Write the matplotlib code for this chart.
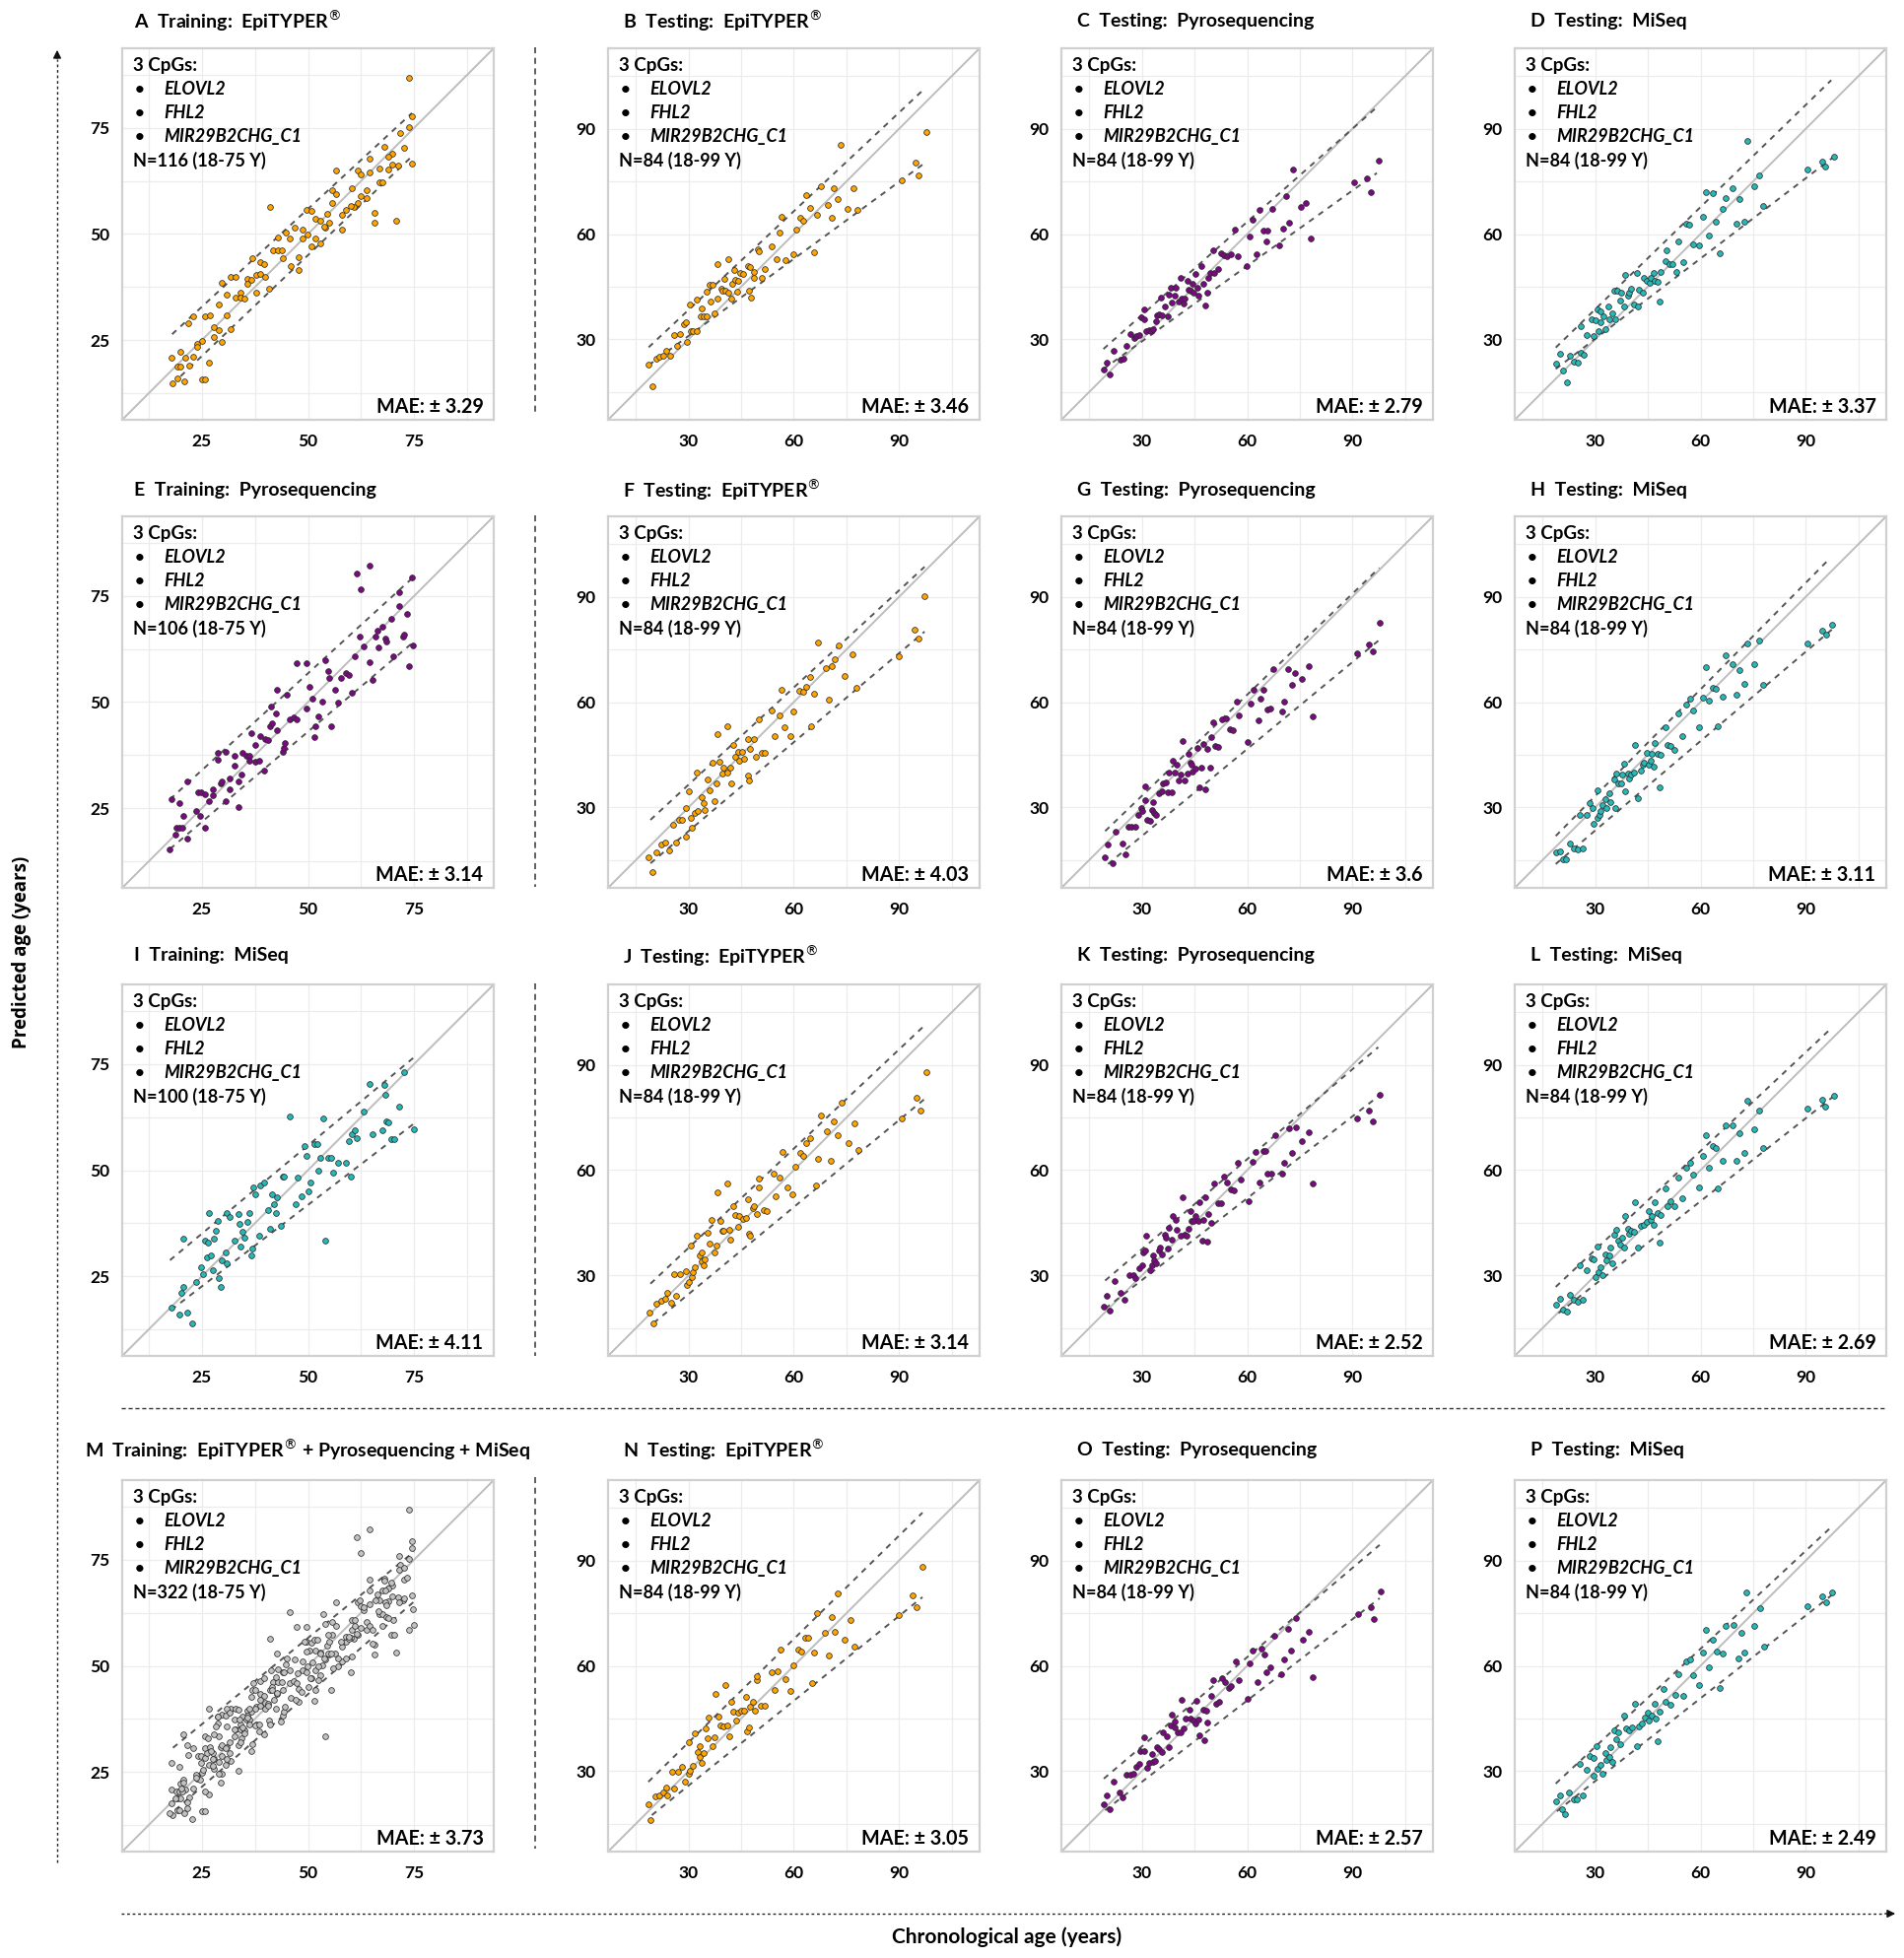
import matplotlib
matplotlib.use("Agg")
import matplotlib.pyplot as plt

plt.rcParams['font.family'] = ['Lato', 'DejaVu Sans']
plt.rcParams['mathtext.fontset'] = 'dejavusans'

# ---------------- data ----------------
A_x = [73.8,74.6,73.8,71.7,67.9,72.7,69.8,68.8,64.6,74.6, 69.8,71.3,66.8,68.8,56.7,61.7,62.5,64.6,66.8,67.5,
       55.8,60.4,63.8,62.5,63.8,56.7,55.8,61.7,60.8,60.0, 59.0,57.9,54.6,65.7,65.7,70.7,49.6,50.7,51.7,52.9,
       54.0,53.8,55.0,57.9,46.8,44.8,48.8,41.0,42.9,45.8, 48.8,49.8,50.8,51.7,52.9,41.7,42.9,43.8,44.0,47.9,
       46.0,47.9,36.8,38.8,39.6,35.8,36.7,37.7,38.8,39.8, 35.8,37.7,40.8,29.8,31.8,32.9,30.8,34.0,32.9,34.2,
       35.0,29.0,30.8,25.8,26.8,22.9,21.9,27.9,29.0,31.8, 27.9,29.8,25.0,24.0,24.0,22.9,20.0,21.0,17.9,19.2,
       20.0,22.1,26.7,19.2,18.2,20.8,25.0,25.8]
A_y = [86.8,77.8,75.2,73.9,70.6,70.2,68.8,68.3,67.8,66.7, 66.4,66.1,65.5,65.2,65.0,65.0,64.0,64.4,62.2,62.2,
       60.3,60.7,60.3,59.0,58.4,59.3,57.4,57.4,56.4,56.7, 55.7,54.5,54.7,54.9,52.6,53.1,55.7,55.4,53.6,53.1,
       51.4,51.8,52.6,51.0,51.4,50.4,51.0,56.4,49.1,49.0, 49.0,49.8,47.1,49.0,47.9,46.2,46.2,46.1,44.4,44.6,
       42.5,41.5,44.4,43.3,43.0,39.4,39.1,40.4,40.7,39.9, 38.2,36.3,37.1,38.6,39.8,39.9,35.7,36.3,35.0,35.0,
       34.7,33.4,30.9,30.6,30.9,30.6,29.1,28.1,27.4,27.5, 25.7,24.7,24.9,24.1,23.5,21.2,22.3,20.8,20.8,18.8,
       18.7,19.0,19.6,15.9,14.8,15.3,15.7,15.7]

B_x = [18.6,19.7,20.8,21.7,22.7,23.6,24.6,25.7,26.7,27.6, 28.6,29.3,29.5,30.3,30.5,31.2,32.2,32.4,33.3,33.8,
       34.3,35.0,35.2,36.0,36.2,36.9,37.3,38.1,38.3,39.2, 39.5,40.2,40.4,41.2,41.4,42.1,42.3,43.0,43.3,43.8,
       44.2,44.7,45.5,46.8,47.1,47.6,47.8,48.5,48.7,49.7, 49.9,50.9,51.8,53.7,55.0,55.9,56.6,57.6,59.8,60.8,
       61.7,62.7,63.6,64.6,65.7,66.7,67.6,69.6,70.7,71.4, 72.4,73.3,75.2,77.1,78.2,90.8,94.8,95.6,97.7]
B_y = [22.8,16.7,24.4,25.0,25.3,26.7,25.3,31.2,28.1,31.4, 34.4,34.9,29.1,39.8,32.3,32.3,32.3,41.2,36.6,38.9,
       36.6,36.4,43.5,45.6,40.7,45.6,37.5,51.4,41.5,44.3, 43.7,47.3,43.7,43.3,52.8,41.5,45.8,49.6,46.8,43.5,
       46.6,48.8,48.5,51.0,43.8,50.5,42.0,49.1,47.5,55.6, 55.2,47.5,50.0,56.6,52.8,60.3,64.9,52.6,54.2,61.2,
       64.6,63.7,71.2,67.4,54.7,65.4,73.6,68.4,64.6,73.1, 69.9,85.4,67.1,73.1,66.8,75.2,80.3,76.6,89.0]

C_x = [19.0,20.0,20.8,21.9,23.9,24.7,25.5,26.8,27.7,28.4, 29.2,29.7,30.5,30.5,31.3,31.9,32.6,33.2,34.0,34.4,
       34.8,35.3,35.8,36.5,37.3,37.7,38.1,38.4,39.4,39.7, 40.5,41.0,41.3,41.8,42.1,42.9,43.2,43.7,44.5,44.8,
       45.3,45.8,46.1,46.9,47.4,48.1,48.5,49.0,49.4,50.2, 50.6,51.8,52.6,53.4,54.2,55.5,56.6,57.4,59.8,60.6,
       61.5,62.7,63.5,64.7,65.5,65.8,67.1,69.2,70.3,71.1, 71.9,73.2,75.2,76.8,78.1,90.5,94.2,95.3,97.4]
C_y = [21.4,23.4,20.0,26.6,24.2,24.4,28.1,31.6,30.4,31.0, 31.2,36.2,38.6,35.7,32.3,32.7,32.3,32.9,35.0,36.9,
       37.2,42.0,36.9,39.3,36.6,42.8,44.8,40.4,42.5,44.8, 40.7,47.6,41.6,40.2,41.6,46.7,44.1,43.9,45.8,43.4,
       48.6,44.8,42.5,50.9,45.8,39.7,43.4,47.6,49.0,55.5, 49.0,50.0,54.6,54.0,53.7,54.1,61.4,53.7,50.9,59.4,
       64.2,54.1,67.0,61.1,58.0,61.1,67.3,56.7,61.6,70.9, 63.3,78.5,67.6,68.8,58.6,74.8,76.0,72.0,80.9]

D_x = [18.7,19.8,20.8,21.9,22.7,24.0,25.1,25.9,26.7,25.9, 27.6,28.9,29.5,30.0,30.5,30.8,31.6,31.6,32.4,32.8,
       33.7,34.1,34.9,35.4,35.7,36.2,37.0,37.3,38.1,38.6, 39.2,39.7,40.2,40.9,41.8,42.2,42.5,43.5,43.8,44.6,
       45.4,45.7,46.7,47.0,47.8,48.3,48.6,49.9,50.3,51.1, 51.9,53.2,53.8,55.1,55.9,56.7,58.0,59.6,60.7,61.5,
       62.3,63.4,64.4,65.5,66.3,67.1,69.2,70.3,71.2,72.5, 73.3,75.2,76.8,77.9,90.6,94.7,95.5,98.0]
D_y = [23.1,25.9,21.0,17.8,25.3,23.7,23.4,26.0,25.6,33.7, 31.2,35.6,30.9,35.3,38.4,32.4,37.9,34.7,36.5,33.0,
       39.3,35.6,37.4,43.7,35.6,43.9,40.9,43.2,39.3,48.4, 42.5,43.4,44.4,40.0,48.8,39.3,44.1,43.4,47.4,46.7,
       46.2,47.4,48.8,46.7,46.5,40.7,49.3,52.3,55.3,51.4, 51.5,49.3,58.0,52.1,63.0,62.7,57.1,56.7,64.8,72.0,
       59.7,71.6,63.6,54.6,67.2,70.4,73.2,63.0,70.1,63.4, 86.5,73.5,76.7,67.9,78.3,80.7,79.3,82.0]

E_x = [17.5,17.8,18.7,19.0,19.7,20.4,19.7,20.7,21.6,21.6, 23.7,24.2,24.9,24.6,25.7,25.7,26.7,27.6,27.6,28.7,
       28.7,29.4,29.7,30.6,30.6,31.6,31.6,32.7,32.7,33.6, 33.6,34.3,34.6,35.4,36.1,36.6,36.1,37.6,37.6,38.4,
       38.7,39.6,39.9,40.6,41.0,41.3,41.6,42.5,42.8,42.8, 44.0,44.3,44.6,45.1,45.8,46.6,47.3,47.3,49.6,49.6,
       50.3,51.0,51.5,51.8,52.5,53.3,54.0,54.8,55.1,55.5, 56.3,57.0,57.8,58.9,59.6,60.4,61.0,61.5,62.2,62.5,
       63.0,64.5,64.6,65.2,65.9,66.4,66.7,67.5,68.2,68.5, 69.7,70.0,71.5,71.5,72.4,72.7,73.4,73.9,74.5,74.8]
E_y = [15.4,27.1,18.7,20.5,20.5,20.5,26.3,23.2,17.9,31.4, 24.4,28.8,28.8,23.2,20.5,28.4,26.7,29.5,28.0,36.5,
       38.0,30.9,31.4,26.7,38.2,32.0,29.5,37.3,35.1,25.2, 31.4,33.0,38.0,37.4,37.3,42.7,36.1,39.8,35.9,36.1,
       42.1,33.8,41.3,41.0,44.3,49.0,45.1,47.3,53.0,43.5, 38.2,39.2,40.4,51.7,45.9,46.3,45.9,59.1,59.1,48.6,
       53.5,50.7,41.8,44.3,46.6,50.2,59.9,57.2,55.6,44.3, 52.9,49.8,55.6,56.8,56.4,52.1,60.9,80.4,65.5,76.5,
       63.0,82.2,59.5,55.2,65.5,66.8,62.9,67.7,65.0,64.2, 69.5,60.7,75.9,72.6,65.4,65.8,70.7,58.4,79.3,63.4]

F_x = [18.5,19.6,20.9,22.2,23.3,24.5,25.5,26.4,27.3,28.2, 29.1,29.1,30.0,30.5,30.9,31.8,32.7,32.4,33.6,34.2,
       34.5,35.5,36.0,36.7,37.3,37.8,38.2,38.7,39.6,40.0, 40.9,40.9,41.8,42.2,42.7,43.3,44.0,44.5,45.1,45.8,
       46.9,46.9,47.3,47.6,48.7,49.1,50.0,50.9,51.8,53.6, 54.5,55.8,56.4,57.3,59.1,60.0,61.5,62.7,63.6,64.5,
       64.9,65.8,66.9,69.1,70.0,70.9,71.8,72.7,74.5,76.7, 77.8,90.0,94.5,95.5,97.3]
F_y = [15.7,11.6,17.1,19.4,19.9,17.7,25.0,19.9,26.4,26.4, 29.7,21.5,34.6,27.1,24.1,28.3,28.8,40.0,33.0,31.1,
       29.3,38.0,34.9,42.8,31.8,36.8,50.8,43.0,39.6,41.4, 53.2,40.0,41.2,36.8,47.7,44.3,45.8,43.3,45.7,43.8,
       49.4,39.1,37.7,46.6,49.4,44.3,55.0,45.5,45.5,57.7, 50.3,56.2,63.5,52.7,50.2,57.4,63.3,63.0,64.4,67.2,
       53.2,62.5,77.1,69.6,60.7,70.2,72.1,76.1,67.4,73.6, 64.2,73.0,80.8,78.0,90.2]

G_x = [19.5,20.3,21.5,22.5,24.4,25.2,26.0,27.1,28.1,28.9, 29.7,30.0,30.8,31.0,31.6,32.4,32.9,33.2,33.5,34.0,
       34.8,35.6,36.1,36.8,37.3,37.7,38.4,38.9,39.4,40.0, 40.5,41.0,41.6,42.1,42.9,43.2,43.7,44.2,44.5,45.3,
       45.8,46.5,46.9,47.4,48.1,48.7,49.4,49.7,50.3,51.0, 51.8,52.9,53.9,55.0,55.8,57.1,57.7,60.2,61.0,61.9,
       63.1,63.9,64.7,65.8,66.5,67.4,70.0,70.6,71.6,72.7, 73.5,75.5,77.6,78.7,91.3,94.8,95.8,97.7]
G_y = [15.7,19.4,14.0,23.0,19.6,16.6,24.3,24.3,24.3,27.7, 29.9,28.8,32.1,36.1,26.4,26.2,29.3,31.6,28.3,27.9,
       33.9,34.6,36.8,37.0,34.2,39.8,34.4,43.3,40.0,42.1, 37.7,39.3,48.9,37.7,39.6,45.2,42.7,42.1,40.2,41.0,
       46.8,35.8,41.4,48.0,35.2,46.6,41.4,49.9,54.1,47.5, 47.1,55.2,55.5,52.2,52.0,60.2,56.2,48.5,59.5,63.5,
       54.8,61.1,63.5,57.8,58.3,69.3,57.4,60.2,69.3,64.9, 68.2,66.7,70.2,56.0,74.0,76.4,74.5,82.7]

H_x = [18.7,19.8,20.8,21.6,22.7,24.0,25.1,26.3,25.6,27.6, 28.4,29.2,29.5,30.5,30.5,31.1,31.6,32.1,32.8,33.2,
       34.1,34.4,35.3,35.7,36.0,36.5,37.3,37.6,38.1,38.6, 39.2,39.7,40.2,40.9,41.4,42.2,43.0,43.5,43.8,44.6,
       45.1,45.7,46.2,46.7,47.0,47.8,48.3,48.6,49.9,50.5, 51.4,52.6,53.8,54.7,55.9,57.0,58.0,59.6,60.7,61.5,
       62.3,63.4,64.4,65.0,66.3,67.1,69.2,70.3,71.2,72.5, 73.3,75.2,76.8,77.9,90.6,94.7,95.8,97.4]
H_y = [17.1,17.5,15.2,15.2,19.6,18.3,18.0,18.3,27.7,27.7, 31.1,29.9,25.2,34.9,27.0,27.9,28.8,30.6,32.4,29.7,
       33.9,31.6,38.0,29.9,39.6,36.8,36.8,39.3,42.4,34.6, 39.6,38.2,39.3,40.0,47.7,32.7,40.5,42.1,42.8,45.5,
       42.1,43.3,45.2,41.7,48.3,45.2,35.8,44.9,52.7,47.7, 47.5,46.4,56.7,50.3,59.3,61.1,57.7,52.7,61.4,70.0,
       60.5,64.2,63.9,53.2,61.6,73.3,70.8,62.1,69.1,65.3, 76.6,70.8,77.6,64.9,76.8,80.5,79.2,82.0]

I_x = [17.8,19.7,20.1,20.7,20.7,21.6,22.7,23.7,24.9,25.2, 25.7,26.1,26.4,26.7,27.2,27.6,27.9,28.4,28.7,29.1,
       29.4,29.7,30.6,30.9,30.9,31.6,32.7,33.6,33.9,34.2, 34.6,35.1,35.7,36.1,36.6,36.9,37.2,37.6,38.4,38.7,
       39.6,40.6,41.0,41.6,42.1,42.5,42.8,43.6,44.0,44.3, 45.8,47.0,47.6,48.5,49.1,49.6,50.0,50.6,51.5,52.1,
       52.5,53.0,53.6,54.0,54.8,55.5,56.0,57.0,59.0,59.6, 60.0,60.4,61.0,61.5,63.0,64.5,65.2,67.5,67.9,68.2,
       68.5,68.9,69.7,70.4,71.5,72.7,74.9]
I_y = [17.7,16.1,21.1,22.4,33.8,16.5,14.0,23.7,27.2,25.6, 33.4,29.5,33.0,40.0,29.9,26.4,33.8,35.8,38.1,24.5,
       22.4,28.8,30.7,28.0,40.0,38.9,33.4,39.6,37.3,31.9, 35.4,34.2,37.7,40.0,29.9,31.5,45.9,44.3,34.6,46.3,
       47.0,40.6,36.1,44.3,42.0,40.0,43.7,36.9,48.4,48.6, 62.6,42.0,48.2,43.9,55.6,53.3,45.1,47.0,56.1,56.1,
       49.9,52.9,62.1,33.4,52.9,52.9,49.4,51.7,51.7,56.8, 48.6,58.5,59.5,57.5,63.8,70.2,58.5,59.5,70.0,67.7,
       61.6,61.3,57.4,57.2,64.9,73.1,59.6]

J_x = [18.7,20.0,20.9,22.2,23.3,24.0,25.1,26.4,25.8,27.6, 29.1,29.5,30.0,30.5,30.9,31.3,31.8,32.4,33.1,33.6,
       33.6,34.2,34.5,35.5,36.0,36.4,37.3,37.8,38.2,39.1, 39.6,40.0,40.9,41.5,41.8,42.7,43.3,44.0,44.5,45.5,
       46.4,46.9,47.3,47.6,48.2,48.7,49.5,50.0,50.0,51.3, 52.4,54.2,54.9,56.0,56.7,58.2,59.6,60.4,61.8,62.7,
       63.6,64.5,66.4,66.9,67.6,69.5,70.5,71.3,72.4,73.6, 75.5,77.3,78.5,90.9,94.9,96.0,97.8]
J_y = [19.4,16.4,22.0,22.8,23.2,25.0,22.2,24.1,30.2,30.2, 31.2,27.2,28.1,38.4,29.5,30.9,32.3,41.2,35.6,34.0,
       36.5,32.8,34.6,42.1,39.0,45.8,36.5,38.4,53.7,45.4, 42.6,42.6,56.1,43.0,40.2,49.6,47.2,43.9,46.8,46.1,
       46.5,51.7,41.8,41.2,49.1,49.6,47.4,55.1,57.7,48.6, 48.3,58.9,52.6,57.9,65.1,55.1,53.0,61.0,64.9,64.0,
       67.7,69.1,55.6,63.1,75.7,71.0,62.6,73.8,70.1,79.4, 67.7,73.3,65.7,74.7,80.8,76.9,88.1]

K_x = [19.0,19.8,20.8,22.2,24.0,24.9,26.3,27.4,28.0,29.1, 30.0,30.3,30.8,31.3,32.4,32.9,33.2,33.5,34.0,34.8,
       35.2,35.6,36.5,36.8,37.3,37.7,38.4,38.9,39.7,40.0, 41.0,41.6,42.1,42.6,43.2,43.7,44.2,44.8,45.3,46.1,
       46.5,47.1,47.4,48.1,48.5,49.0,49.7,50.6,51.8,52.6, 53.4,54.2,55.5,56.1,57.4,58.2,60.3,61.5,62.3,63.5,
       64.7,65.2,65.8,66.8,67.9,70.0,70.6,71.9,72.7,73.9, 75.5,77.6,78.7,91.3,94.8,95.8,97.7]
K_y = [21.1,24.2,19.9,28.3,25.1,23.0,30.0,30.0,29.2,32.0, 32.8,36.5,37.0,41.2,31.4,32.9,35.7,34.2,33.5,37.2,
       37.9,36.0,41.6,40.7,37.6,43.5,40.2,46.8,45.8,43.0, 41.3,52.2,41.6,41.3,43.2,48.4,45.6,45.6,46.9,45.4,
       51.0,39.8,45.8,52.2,39.5,47.5,44.9,56.1,50.7,50.5, 58.1,56.5,54.4,54.2,62.1,57.2,51.2,62.4,65.2,56.5,
       65.6,65.4,58.9,59.1,69.9,58.9,62.1,71.9,64.9,72.1, 68.2,70.8,56.3,74.7,77.1,74.0,81.5]

L_x = [18.7,19.8,20.8,21.9,22.7,24.0,25.1,26.3,25.6,27.6, 28.9,29.5,30.0,30.5,30.8,31.6,32.1,32.8,33.2,34.1,
       34.4,34.9,35.4,36.0,36.5,37.0,37.6,38.1,38.6,39.2, 39.7,40.2,40.9,41.4,42.2,43.0,43.8,44.6,45.1,45.7,
       46.2,46.7,47.0,47.8,48.3,48.6,49.9,50.5,51.4,52.6, 53.8,54.7,55.9,57.0,58.0,59.6,60.7,61.5,62.3,63.4,
       64.4,65.0,66.3,67.1,69.2,70.3,71.2,72.5,73.3,75.2, 76.8,77.9,90.6,94.7,95.5,98.0]
L_y = [21.6,23.4,20.2,19.7,24.4,23.0,22.5,23.0,32.8,31.4, 34.8,34.6,29.5,38.2,30.9,32.3,30.1,36.0,34.2,35.6,
       37.9,33.5,41.6,43.0,39.8,38.8,40.7,37.9,46.8,43.2, 41.9,42.8,42.3,51.0,37.9,44.1,44.4,45.1,48.2,45.8,
       46.8,44.4,51.0,47.9,39.3,47.2,54.7,49.7,51.2,49.6, 57.9,51.9,60.7,62.1,58.7,55.1,64.0,69.9,60.7,66.8,
       66.3,54.7,62.8,72.9,72.7,62.8,70.5,64.9,79.9,71.7, 77.1,66.2,77.5,80.1,78.0,81.3]

# M = combined training set (the samples of A, E and I)
M_x = A_x + E_x + I_x
M_y = A_y + E_y + I_y

N_x = [18.5,19.1,20.4,21.6,22.7,23.5,24.0,25.8,25.3,27.1, 28.2,28.9,30.0,30.0,30.4,31.3,31.8,32.5,33.1,33.1,
       33.6,34.4,34.9,35.5,35.8,36.7,37.3,37.6,38.5,39.1, 39.8,40.4,40.9,41.6,42.2,42.7,43.5,44.0,44.9,45.8,
       46.4,46.7,47.1,47.6,48.2,48.9,49.5,49.5,50.7,51.8, 53.6,54.4,55.5,56.2,57.6,59.1,59.8,61.3,62.2,63.1,
       64.0,65.8,65.3,66.7,68.9,70.0,70.7,71.8,72.5,74.4, 76.2,77.3,90.0,94.0,94.9,96.7]
N_y = [20.4,16.0,22.7,23.1,23.9,25.4,22.9,24.9,29.8,29.8, 31.2,27.1,29.2,38.2,30.0,31.5,40.8,35.5,34.0,37.0,
       32.3,35.1,42.1,39.2,45.3,37.0,39.5,52.1,45.6,42.9, 42.6,54.4,42.9,39.8,49.6,46.9,44.3,46.6,47.1,47.1,
       51.1,41.3,42.3,48.3,49.6,47.3,56.0,57.0,48.6,48.6, 58.2,53.1,58.4,64.7,56.2,52.9,60.2,64.7,64.1,68.1,
       68.1,63.7,55.2,75.1,69.5,63.0,73.8,69.8,80.6,67.5, 73.1,65.4,74.5,80.2,76.8,88.2]

O_x = [19.1,19.8,20.8,21.9,23.5,24.3,25.6,26.8,27.6,28.4, 29.2,29.5,30.5,30.5,31.6,32.1,32.8,33.2,33.7,34.4,
       34.9,35.7,36.0,37.0,37.6,38.1,38.6,39.2,39.2,40.2, 40.9,41.3,41.8,42.5,43.5,43.8,44.6,45.1,45.4,46.2,
       46.4,47.4,47.9,48.4,48.7,49.7,50.3,51.1,51.9,52.7, 53.8,54.8,55.4,56.7,57.5,60.0,60.8,61.6,62.9,64.0,
       64.8,65.6,66.5,67.8,69.7,70.5,71.7,72.6,73.8,75.9, 77.5,78.6,91.6,95.3,96.0,98.1]
O_y = [20.5,23.1,19.2,27.1,23.9,22.5,28.8,29.0,29.3,31.3, 32.0,35.7,35.7,39.6,30.8,32.3,34.9,32.7,32.9,36.9,
       36.2,35.5,41.1,39.8,36.7,43.0,46.0,44.0,42.5,41.1, 41.1,50.4,42.1,45.0,47.6,45.0,44.5,43.5,49.9,44.7,
       40.1,47.5,38.8,47.3,43.7,51.4,55.8,49.2,49.6,56.5, 55.3,53.8,54.1,61.4,55.8,50.6,60.7,64.3,55.5,64.9,
       63.3,58.2,59.7,68.5,57.7,61.7,70.5,64.3,73.7,67.5, 69.8,56.8,74.7,76.7,73.4,81.3]

P_x = [18.7,19.8,20.6,21.4,22.6,23.8,24.7,26.3,25.5,27.4, 28.4,29.5,29.5,30.3,30.6,31.6,31.9,32.8,33.2,33.9,
       34.4,34.9,35.5,36.0,36.5,37.1,38.1,38.8,39.7,40.4, 41.3,42.0,42.5,43.3,44.1,44.9,45.2,46.2,46.9,47.3,
       47.8,48.4,49.4,50.1,51.4,52.7,53.8,55.0,55.9,57.1, 57.9,59.5,60.8,61.5,62.4,63.5,64.7,65.6,66.3,67.3,
       69.5,70.8,71.6,72.5,73.2,75.4,77.0,78.1,90.6,94.8, 95.9,97.6]
P_y = [21.2,22.9,19.2,17.8,23.9,22.0,21.8,22.9,32.0,30.3, 34.2,33.7,28.6,37.2,30.6,31.8,29.3,35.2,33.2,33.9,
       36.9,32.7,41.6,39.1,41.1,37.6,45.7,42.1,41.6,42.5, 49.2,37.2,42.7,43.5,45.3,46.7,44.5,45.7,49.2,45.0,
       38.6,47.0,53.3,49.6,48.9,51.6,57.5,51.4,61.2,61.7, 57.3,54.5,63.9,70.2,59.7,67.5,64.1,53.8,63.6,71.5,
       71.8,62.2,69.5,63.9,81.0,71.5,76.4,65.6,77.1,79.8, 78.0,81.0]

# dashed band lines: [x0, y0, x1, y1]
upper_lines = {
    'A': [18.0, 26.4, 74.5, 78.5], 'B': [18.6, 27.7, 97.0, 101.2], 'C': [19.0, 27.2, 97.0, 96.2], 'D': [18.7, 27.6, 97.3, 103.9],
    'E': [17.5, 27.1, 74.9, 79.5], 'F': [19.1, 26.4, 97.3, 98.6], 'G': [19.5, 23.2, 97.7, 98.3], 'H': [18.7, 21.8, 96.9, 101.0],
    'I': [17.5, 28.8, 75.0, 76.6], 'J': [19.1, 27.6, 97.3, 101.3], 'K': [19.5, 28.5, 97.4, 95.1], 'L': [18.7, 26.7, 96.9, 100.1],
    'M': [18.2, 30.7, 75.0, 76.9], 'N': [18.5, 26.9, 96.7, 103.7], 'O': [19.1, 27.8, 97.8, 94.5], 'P': [18.7, 26.4, 97.1, 99.4],
}
lower_lines = {
    'A': [20.0, 16.5, 74.6, 68.4], 'B': [18.6, 22.6, 97.4, 80.3], 'C': [19.0, 21.5, 97.0, 77.4], 'D': [18.7, 21.5, 98.0, 82.0],
    'E': [17.5, 15.4, 74.9, 64.2], 'F': [19.1, 14.0, 97.3, 80.1], 'G': [20.3, 13.8, 97.4, 77.5], 'H': [18.7, 13.8, 97.6, 80.8],
    'I': [17.8, 17.1, 75.0, 61.0], 'J': [20.0, 16.4, 97.3, 80.3], 'K': [19.5, 20.5, 97.7, 81.3], 'L': [19.5, 19.2, 98.0, 81.1],
    'M': [18.7, 16.0, 75.4, 65.5], 'N': [19.5, 17.4, 96.7, 79.6], 'O': [19.5, 18.8, 97.8, 79.3], 'P': [19.0, 18.5, 97.6, 80.3],
}

letters = list("ABCDEFGHIJKLMNOP")
stages = ['Training', 'Testing', 'Testing', 'Testing'] * 4
platforms = ['EpiTYPER$^{\\circledR}$', 'EpiTYPER$^{\\circledR}$', 'Pyrosequencing', 'MiSeq',
             'Pyrosequencing', 'EpiTYPER$^{\\circledR}$', 'Pyrosequencing', 'MiSeq',
             'MiSeq', 'EpiTYPER$^{\\circledR}$', 'Pyrosequencing', 'MiSeq',
             'EpiTYPER$^{\\circledR}$ + Pyrosequencing + MiSeq', 'EpiTYPER$^{\\circledR}$', 'Pyrosequencing', 'MiSeq']
mae_values = ['3.29', '3.46', '2.79', '3.37', '3.14', '4.03', '3.6', '3.11',
              '4.11', '3.14', '2.52', '2.69', '3.73', '3.05', '2.57', '2.49']
n_labels = ['N=116 (18-75 Y)', 'N=84 (18-99 Y)', 'N=84 (18-99 Y)', 'N=84 (18-99 Y)',
            'N=106 (18-75 Y)', 'N=84 (18-99 Y)', 'N=84 (18-99 Y)', 'N=84 (18-99 Y)',
            'N=100 (18-75 Y)', 'N=84 (18-99 Y)', 'N=84 (18-99 Y)', 'N=84 (18-99 Y)',
            'N=322 (18-75 Y)', 'N=84 (18-99 Y)', 'N=84 (18-99 Y)', 'N=84 (18-99 Y)']
genes = ['ELOVL2', 'FHL2', 'MIR29B2CHG_C1']
train_ticks = [25, 50, 75]
test_ticks = [30, 60, 90]

xs = {'A': A_x, 'B': B_x, 'C': C_x, 'D': D_x, 'E': E_x, 'F': F_x, 'G': G_x, 'H': H_x,
      'I': I_x, 'J': J_x, 'K': K_x, 'L': L_x, 'M': M_x, 'N': N_x, 'O': O_x, 'P': P_x}
ys = {'A': A_y, 'B': B_y, 'C': C_y, 'D': D_y, 'E': E_y, 'F': F_y, 'G': G_y, 'H': H_y,
      'I': I_y, 'J': J_y, 'K': K_y, 'L': L_y, 'M': M_y, 'N': N_y, 'O': O_y, 'P': P_y}

# ---------------- styling / layout ----------------
W, H = 1932, 1987
fig = plt.figure(figsize=(W / 100, H / 100), dpi=100)

col_left = [124, 617, 1077, 1537]
row_top = [49, 524, 999, 1502]
BOX = 377
title_x = [136, 632, 1093, 1553]
title_y = [21, 497, 970, 1471]

ORANGE, PURPLE, TEAL, GREY = '#FFA500', '#7B0A82', '#27B8B8', '#C2C2C2'
col_colors = [[ORANGE, ORANGE, PURPLE, TEAL], [PURPLE, ORANGE, PURPLE, TEAL],
              [TEAL, ORANGE, PURPLE, TEAL], [GREY, ORANGE, PURPLE, TEAL]]

# overlay axes in pixel coordinates
ov = fig.add_axes([0, 0, 1, 1])
ov.set_xlim(0, W)
ov.set_ylim(H, 0)
ov.axis('off')

for i, L in enumerate(letters):
    r, c = divmod(i, 4)
    left, top = col_left[c], row_top[r]
    ax = fig.add_axes([left / W, 1 - (top + BOX) / H, BOX / W, BOX / H])
    training = (c == 0)
    lim = (6.25, 93.75) if training else (7.0, 113.0)
    ticks = train_ticks if training else test_ticks
    step = ticks[1] - ticks[0]
    minor = [ticks[0] - step / 2 + k * step for k in range(4)]
    ax.set_xlim(lim)
    ax.set_ylim(lim)
    ax.set_xticks(ticks)
    ax.set_yticks(ticks)
    ax.set_xticks(minor, minor=True)
    ax.set_yticks(minor, minor=True)
    ax.set_xticklabels([str(t) for t in ticks], fontsize=12.5, fontweight='bold')
    ax.set_yticklabels([str(t) for t in ticks], fontsize=12.5, fontweight='bold')
    ax.tick_params(which='both', length=0)
    ax.tick_params(axis='x', pad=10)
    ax.tick_params(axis='y', pad=9)
    ax.grid(which='both', color='#ececec', lw=0.9, zorder=0)
    ax.set_axisbelow(True)
    for sp in ax.spines.values():
        sp.set_color('#d0d0d0')
        sp.set_linewidth(1.6)
    ax.plot(lim, lim, color='#bdbdbd', lw=1.4, zorder=2)
    u = upper_lines[L]
    lo = lower_lines[L]
    ax.plot([u[0], u[2]], [u[1], u[3]], color='#555555', lw=1.4, ls=(0, (3, 3)), zorder=3)
    ax.plot([lo[0], lo[2]], [lo[1], lo[3]], color='#555555', lw=1.4, ls=(0, (3, 3)), zorder=3)
    ax.scatter(xs[L], ys[L], s=17, c=col_colors[r][c], edgecolors='#2a2a2a', linewidths=0.55, zorder=4)

    # inner annotation
    ax.text(0.03, 0.953, '3 CpGs:', transform=ax.transAxes, fontsize=13.5, fontweight='bold', va='center')
    for k, g in enumerate(genes):
        yy = 0.889 - k * 0.0635
        ax.text(0.035, yy, '\u2022', transform=ax.transAxes, fontsize=12, fontweight='bold', va='center')
        ax.text(0.113, yy, g, transform=ax.transAxes, fontsize=13, fontweight='bold',
                fontstyle='italic', va='center')
    ax.text(0.03, 0.699, n_labels[i], transform=ax.transAxes, fontsize=13, fontweight='bold', va='center')
    ax.text(0.972, 0.035, 'MAE: \u00b1 ' + mae_values[i], transform=ax.transAxes, fontsize=14.2,
            fontweight='bold', va='center', ha='right')

    tx = 86 if L == 'M' else title_x[c]
    ov.text(tx, title_y[r], f'{L}  {stages[i]}:  {platforms[i]}', fontsize=14, fontweight='bold',
            va='center', ha='left')

# vertical dashed separators between training and testing columns
row_spans = [(48, 422), (523, 900), (998, 1376), (1499, 1876)]
for (y0, y1) in row_spans:
    ov.plot([543, 543], [y0, y1], color='#333333', lw=1.1, ls=(0, (4, 3)))
# horizontal separator
ov.plot([123, 1912], [1429, 1429], color='#333333', lw=1.0, ls=(0, (3, 2)))

# axis arrows
ov.plot([58, 58], [1890, 60], color='#222222', lw=1.0, ls=(0, (2, 2)))
ov.annotate('', xy=(58, 48), xytext=(58, 62),
            arrowprops=dict(arrowstyle='-|>', color='#111111', lw=1.0, mutation_scale=12))
ov.plot([123, 1912], [1942, 1942], color='#222222', lw=1.0, ls=(0, (2, 2)))
ov.annotate('', xy=(1926, 1942), xytext=(1910, 1942),
            arrowprops=dict(arrowstyle='-|>', color='#111111', lw=1.0, mutation_scale=12))

ov.text(22, 966, 'Predicted age (years)', rotation=90, fontsize=13.5, fontweight='bold',
        family=['Open Sans', 'DejaVu Sans'], va='center', ha='center')
ov.text(1022, 1966, 'Chronological age (years)', fontsize=15, fontweight='bold',
        va='center', ha='center')

fig.savefig('out.png', dpi=100)
